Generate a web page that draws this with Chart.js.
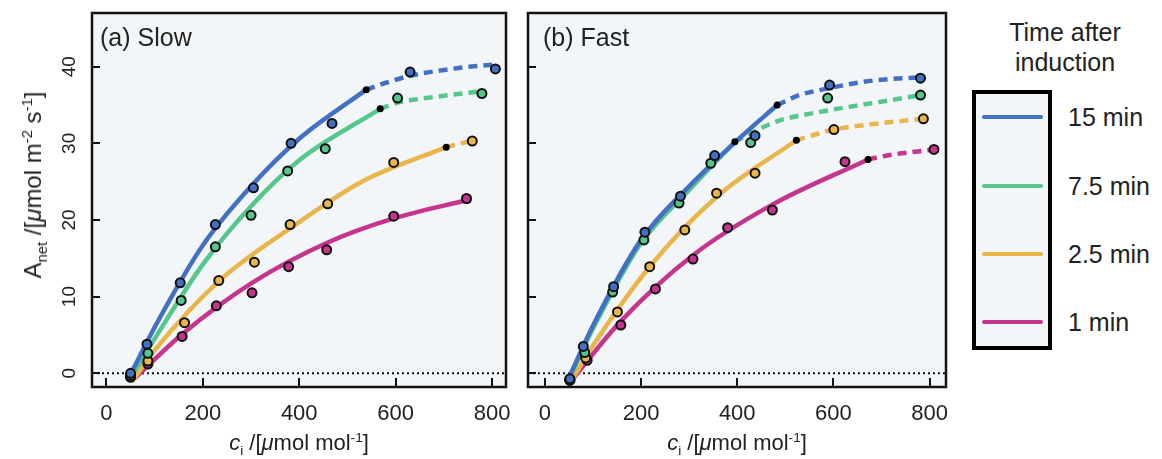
<!DOCTYPE html>
<html>
<head>
<meta charset="utf-8">
<script src="https://cdn.jsdelivr.net/npm/chart.js@4.4.0/dist/chart.umd.min.js"></script>
<style>
  body { margin: 0; background: #fff; font-family: "Liberation Sans", Arial, sans-serif; color: #222; }
  #wrap { position: relative; width: 1162px; height: 459px; overflow: hidden; }
  .panel { position: absolute; top: 0; height: 459px; }
  #boxA { left: 0; width: 515px; }
  #boxB { left: 515px; width: 440px; }
  .tag { position: absolute; top: 23px; font-size: 25px; line-height: 28px; }
  .ytitle { position: absolute; left: 33px; top: 185px; transform: translate(-50%, -50%) rotate(-90deg); font-size: 24px; white-space: nowrap; }
  .xtitle { position: absolute; top: 443px; transform: translate(-50%, -50%); font-size: 22px; white-space: nowrap; }
  sub, sup { font-size: 62%; line-height: 0; }
  #legTitle { position: absolute; left: 1065px; top: 17px; transform: translateX(-50%); text-align: center; font-size: 25px; line-height: 30px; white-space: nowrap; }
  #legBox { position: absolute; left: 972px; top: 90px; width: 72px; height: 252px; border: 4px solid #000; background: #f3f6f8; }
  .legLine { position: absolute; left: 982px; width: 61px; height: 4px; border-radius: 2px; }
  .legText { position: absolute; left: 1068px; font-size: 25px; line-height: 30px; white-space: nowrap; }
</style>
</head>
<body>
<div id="wrap">
  <div class="panel" id="boxA"><canvas id="chartA"></canvas></div>
  <div class="panel" id="boxB"><canvas id="chartB"></canvas></div>
  <div class="tag" style="left:100px">(a) Slow</div>
  <div class="tag" style="left:543px">(b) Fast</div>
  <div class="ytitle">A<sub>net</sub> /[<i>μ</i>mol m<sup>-2</sup> s<sup>-1</sup>]</div>
  <div class="xtitle" style="left:299px"><i>c</i><sub>i</sub> /[<i>μ</i>mol mol<sup>-1</sup>]</div>
  <div class="xtitle" style="left:737px"><i>c</i><sub>i</sub> /[<i>μ</i>mol mol<sup>-1</sup>]</div>
  <div id="legTitle">Time after<br>induction</div>
  <div id="legBox"></div>
</div>
<script>
// axes
const xTicks = [0, 200, 400, 600, 800];
const yTicks = [0, 10, 20, 30, 40];

// series: 15, 7.5, 2.5, 1 min after induction
const seriesNames = ['15 min', '7.5 min', '2.5 min', '1 min'];
const seriesColors = ['#4470c4', '#55c68c', '#e9b64c', '#c5358d'];

// (a) Slow - measured points
const slowPtsX = [
  [50, 84, 153, 226, 305, 383, 468, 630, 807],
  [50, 86, 155, 226, 300, 376, 454, 604, 779],
  [50, 86, 162, 233, 307, 381, 459, 596, 759],
  [50, 86, 157, 228, 302, 378, 457, 596, 747]
];
const slowPtsY = [
  [0, 3.8, 11.8, 19.4, 24.2, 30.0, 32.6, 39.3, 39.7],
  [-0.3, 2.6, 9.5, 16.5, 20.6, 26.4, 29.3, 35.9, 36.5],
  [-0.5, 1.6, 6.6, 12.1, 14.5, 19.4, 22.1, 27.5, 30.3],
  [-0.5, 1.2, 4.8, 8.8, 10.5, 13.9, 16.1, 20.5, 22.8]
];
// (a) Slow - fitted curves (solid part, then dashed extension)
const slowFitX = [
  [48, 100, 200, 300, 400, 539],
  [50, 100, 200, 300, 400, 568],
  [53, 100, 233, 381, 530, 705],
  [58, 157, 302, 457, 596, 749]
];
const slowFitY = [
  [-0.4, 6.0, 16.7, 24.4, 30.6, 37.0],
  [-0.6, 4.5, 14.2, 21.8, 27.8, 34.5],
  [-1.1, 3.0, 12.0, 18.9, 25.0, 29.5],
  [-0.7, 5.1, 11.8, 17.0, 20.2, 22.6]
];
const slowDashX = [
  [539, 580, 630, 727, 807],
  [568, 604, 650, 700, 780],
  [705, 735, 760],
  []
];
const slowDashY = [
  [37.0, 37.9, 38.8, 39.8, 40.3],
  [34.5, 35.3, 35.8, 36.2, 36.8],
  [29.5, 30.0, 30.3],
  []
];
const slowEndX = [539, 568, 705, 750];
const slowEndY = [37.0, 34.5, 29.5, 22.6];

// (b) Fast - measured points
const fastPtsX = [
  [52, 80, 143, 208, 282, 353, 437, 592, 781],
  [52, 83, 141, 206, 279, 345, 428, 588, 781],
  [52, 85, 151, 218, 291, 357, 437, 601, 787],
  [52, 88, 158, 230, 308, 380, 473, 624, 809]
];
const fastPtsY = [
  [-0.7, 3.5, 11.3, 18.4, 23.1, 28.4, 31.0, 37.6, 38.5],
  [-0.9, 2.7, 10.6, 17.4, 22.2, 27.4, 30.1, 35.9, 36.3],
  [-0.9, 2.0, 8.0, 13.9, 18.7, 23.5, 26.1, 31.8, 33.2],
  [-0.9, 1.7, 6.3, 11.0, 14.9, 19.0, 21.3, 27.6, 29.2]
];
const fastFitX = [
  [50, 100, 200, 300, 400, 483],
  [50, 100, 200, 300, 395],
  [55, 100, 218, 357, 523],
  [60, 158, 308, 473, 672]
];
const fastFitY = [
  [-0.6, 6.2, 17.4, 24.4, 30.4, 35.0],
  [-0.8, 5.8, 17.0, 23.9, 30.2],
  [-1.0, 3.6, 13.9, 23.0, 30.4],
  [-0.6, 6.8, 15.4, 22.0, 27.9]
];
const fastDashX = [
  [483, 530, 592, 650, 700, 781],
  [395, 450, 489, 572, 696, 781],
  [523, 601, 696, 787],
  [672, 720, 770, 809]
];
const fastDashY = [
  [35.0, 36.3, 37.2, 37.9, 38.3, 38.6],
  [30.2, 32.0, 33.0, 34.1, 35.4, 36.3],
  [30.4, 31.8, 32.6, 33.2],
  [27.9, 28.5, 28.9, 29.2]
];
const fastEndX = [483, 395, 523, 672];
const fastEndY = [35.0, 30.2, 30.4, 27.9];

function pts(xs, ys) {
  return xs.map((x, i) => ({ x: x, y: ys[i] }));
}

// plot background, dotted zero line, frame and inward ticks
const framePlugin = {
  id: 'frame',
  beforeDraw(chart) {
    const a = chart.chartArea, ctx = chart.ctx;
    ctx.save();
    ctx.fillStyle = '#f3f6f8';
    ctx.fillRect(a.left, a.top, a.right - a.left, a.bottom - a.top);
    ctx.restore();
  },
  beforeDatasetsDraw(chart) {
    const a = chart.chartArea, ctx = chart.ctx;
    const y0 = chart.scales.y.getPixelForValue(0);
    ctx.save();
    ctx.strokeStyle = '#111';
    ctx.lineWidth = 2;
    ctx.setLineDash([2, 3]);
    ctx.beginPath();
    ctx.moveTo(a.left, y0);
    ctx.lineTo(a.right, y0);
    ctx.stroke();
    ctx.restore();
  },
  afterDraw(chart) {
    const a = chart.chartArea, ctx = chart.ctx;
    const xs = chart.scales.x, ys = chart.scales.y;
    ctx.save();
    ctx.strokeStyle = '#111';
    ctx.lineWidth = 2;
    ctx.beginPath();
    xs.ticks.forEach(t => {
      const p = Math.round(xs.getPixelForValue(t.value));
      ctx.moveTo(p, a.bottom);
      ctx.lineTo(p, a.bottom - 9);
    });
    ys.ticks.forEach(t => {
      const p = Math.round(ys.getPixelForValue(t.value));
      ctx.moveTo(a.left, p);
      ctx.lineTo(a.left + 8, p);
    });
    ctx.stroke();
    ctx.lineWidth = 2.5;
    ctx.strokeRect(a.left, a.top, a.right - a.left, a.bottom - a.top);
    ctx.restore();
  }
};

function makeChart(id, p, opts) {
  const datasets = [];
  for (let s = 0; s < seriesNames.length; s++) {
    datasets.push({
      label: seriesNames[s],
      data: pts(p.fitX[s], p.fitY[s]),
      showLine: true, borderColor: seriesColors[s], borderWidth: 4.5,
      pointRadius: 0, cubicInterpolationMode: 'monotone', order: 20 + s
    });
    if (p.dashX[s].length) {
      datasets.push({
        data: pts(p.dashX[s], p.dashY[s]),
        showLine: true, borderColor: seriesColors[s], borderWidth: 4.5, borderDash: [9, 6],
        pointRadius: 0, cubicInterpolationMode: 'monotone', order: 20 + s
      });
    }
    datasets.push({
      data: pts(p.ptsX[s], p.ptsY[s]),
      showLine: false, pointRadius: 4.5, backgroundColor: seriesColors[s],
      borderColor: '#111', borderWidth: 2, order: s
    });
    datasets.push({
      data: [{ x: p.endX[s], y: p.endY[s] }],
      showLine: false, pointRadius: 3.5, backgroundColor: '#000', borderWidth: 0, order: 10 + s
    });
  }

  return new Chart(document.getElementById(id), {
    type: 'scatter',
    data: { datasets: datasets },
    plugins: [framePlugin],
    options: {
      responsive: true,
      maintainAspectRatio: false,
      animation: false,
      layout: { padding: { top: 13, right: 9, left: 0, bottom: 0 } },
      plugins: { legend: { display: false }, tooltip: { enabled: false } },
      scales: {
        x: {
          type: 'linear', min: opts.xMin, max: opts.xMax,
          afterBuildTicks: s => { s.ticks = xTicks.map(v => ({ value: v })); },
          afterFit: s => { s.height = 72; s.paddingLeft = 0; s.paddingRight = 0; },
          grid: { display: false, drawTicks: false },
          border: { display: false },
          ticks: { color: '#222', padding: 14, font: { size: 22, family: '"Liberation Sans", Arial, sans-serif' } }
        },
        y: {
          type: 'linear', min: -1.79, max: 47,
          afterBuildTicks: s => { s.ticks = yTicks.map(v => ({ value: v })); },
          afterFit: s => { s.width = opts.yWidth; s.paddingTop = 0; s.paddingBottom = 0; },
          grid: { display: false, drawTicks: false },
          border: { display: false },
          ticks: {
            display: opts.yLabels, color: '#222', padding: 12,
            minRotation: 90, maxRotation: 90, crossAlign: 'center',
            font: { size: 19, family: '"Liberation Sans", Arial, sans-serif' }
          }
        }
      }
    }
  });
}

makeChart('chartA', {
  ptsX: slowPtsX, ptsY: slowPtsY, fitX: slowFitX, fitY: slowFitY,
  dashX: slowDashX, dashY: slowDashY, endX: slowEndX, endY: slowEndY
}, { xMin: -30, xMax: 829, yWidth: 92, yLabels: true });

makeChart('chartB', {
  ptsX: fastPtsX, ptsY: fastPtsY, fitX: fastFitX, fitY: fastFitY,
  dashX: fastDashX, dashY: fastDashY, endX: fastEndX, endY: fastEndY
}, { xMin: -35, xMax: 834, yWidth: 13, yLabels: false });

// legend entries
const legTops = [117, 186, 254, 322];
const wrap = document.getElementById('wrap');
seriesNames.forEach((name, i) => {
  const line = document.createElement('div');
  line.className = 'legLine';
  line.style.top = (legTops[i] - 2) + 'px';
  line.style.background = seriesColors[i];
  wrap.appendChild(line);
  const txt = document.createElement('div');
  txt.className = 'legText';
  txt.style.top = (legTops[i] - 15) + 'px';
  txt.textContent = name;
  wrap.appendChild(txt);
});
</script>
</body>
</html>
